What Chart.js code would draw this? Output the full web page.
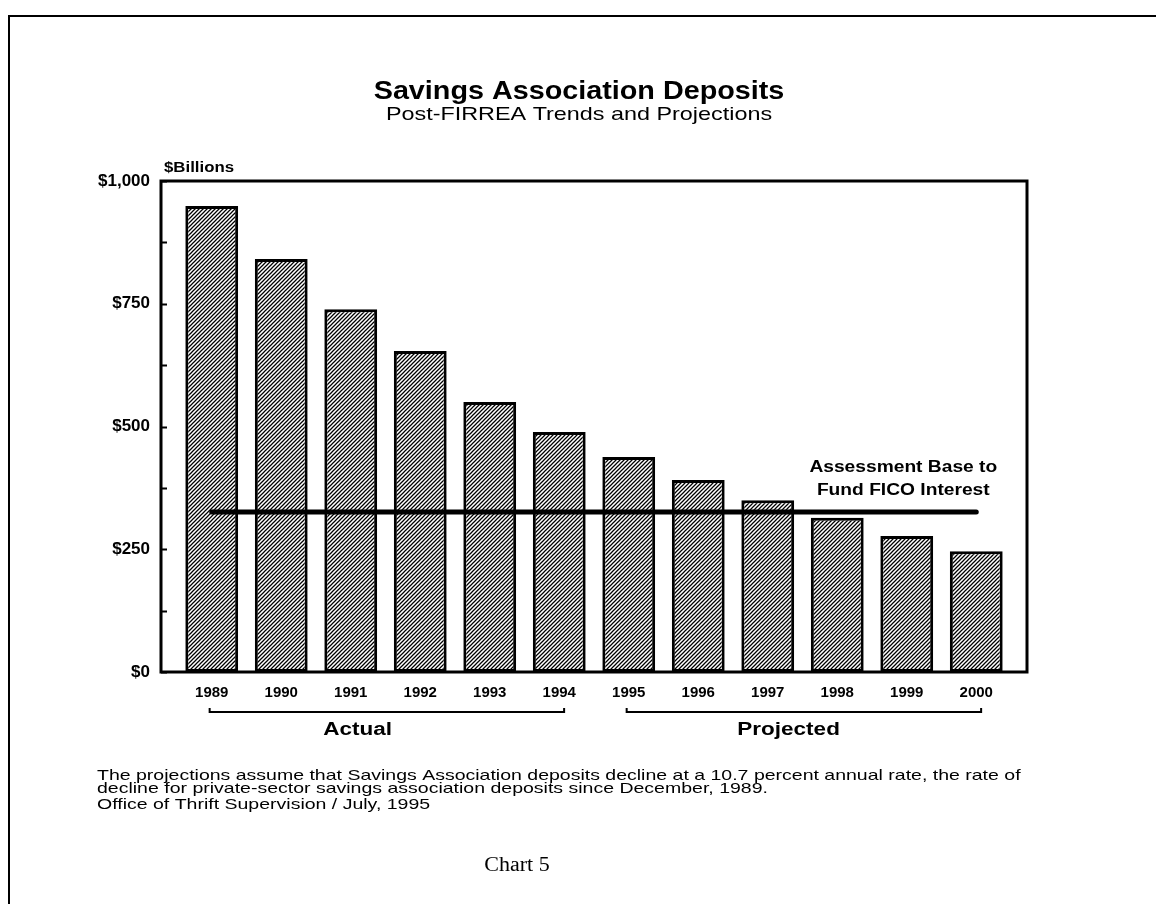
<!DOCTYPE html>
<html>
<head>
<meta charset="utf-8">
<script src="https://cdn.jsdelivr.net/npm/chart.js@4/dist/chart.umd.min.js"></script>
<style>
  html, body { margin: 0; padding: 0; background: #fff; }
  #wrap { position: relative; width: 1156px; height: 904px; }
</style>
</head>
<body>
<div id="wrap"><canvas id="c"></canvas></div>
<script>
// ---- data ----
const years = ['1989','1990','1991','1992','1993','1994','1995','1996','1997','1998','1999','2000'];
const deposits = [949, 841, 739, 654, 550, 489, 438, 391, 350, 314, 277, 246];
const ficoBase = 326;
const yTickValues = [0, 250, 500, 750, 1000];
const yMinorValues = [125, 375, 625, 875];
const groupNames = ['Actual', 'Projected'];
const groupFirst = [0, 6];
const groupLast = [5, 11];
const groupLabelAt = [2.1, 8.3];
const titleText = 'Savings Association Deposits';
const subtitleText = 'Post-FIRREA Trends and Projections';
const unitText = '$Billions';
const annotLines = ['Assessment Base to', 'Fund FICO Interest'];
const footLines = [
  'The projections assume that Savings Association deposits decline at a 10.7 percent annual rate, the rate of',
  'decline for private-sector savings association deposits since December, 1989.',
  'Office of Thrift Supervision / July, 1995'
];
const chartLabel = 'Chart 5';

// ---- hatch pattern ----
function hatch() {
  const t = document.createElement('canvas');
  t.width = 4; t.height = 4;
  const g = t.getContext('2d');
  g.fillStyle = '#fff'; g.fillRect(0, 0, 4, 4);
  g.strokeStyle = '#000'; g.lineWidth = 1.25;
  g.beginPath();
  g.moveTo(-1, 1); g.lineTo(1, -1);
  g.moveTo(0, 4); g.lineTo(4, 0);
  g.moveTo(3, 5); g.lineTo(5, 3);
  g.stroke();
  return g.createPattern(t, 'repeat');
}

function sText(ctx, txt, x, y, font, align, sx) {
  ctx.save();
  ctx.font = font;
  ctx.fillStyle = '#000';
  ctx.textBaseline = 'middle';
  ctx.translate(x, y);
  ctx.scale(sx, 1);
  ctx.textAlign = align;
  ctx.fillText(txt, 0, 0);
  ctx.restore();
}

const SANS = '"Liberation Sans", Arial, sans-serif';

const decor = {
  id: 'decor',
  beforeDraw(chart) {
    const ctx = chart.ctx;
    ctx.save();
    ctx.fillStyle = '#fff';
    ctx.fillRect(0, 0, chart.width, chart.height);
    ctx.strokeStyle = '#000';
    ctx.lineWidth = 2;
    ctx.beginPath();
    ctx.moveTo(9, 904); ctx.lineTo(9, 16); ctx.lineTo(1156, 16);
    ctx.stroke();
    ctx.restore();
  },
  afterDatasetsDraw(chart) {
    const ctx = chart.ctx;
    const a = chart.chartArea;
    const xs = chart.scales.x, ys = chart.scales.y;
    ctx.save();
    ctx.strokeStyle = '#000';
    ctx.lineWidth = 3;
    ctx.strokeRect(a.left, a.top, a.right - a.left, a.bottom - a.top);
    ctx.lineWidth = 2;
    ctx.beginPath();
    yTickValues.concat(yMinorValues).forEach(v => {
      const py = Math.round(ys.getPixelForValue(v)) + 0.5;
      ctx.moveTo(a.left, py); ctx.lineTo(a.left + 6, py);
    });
    ctx.stroke();
    ctx.restore();

    const cx = 579;
    sText(ctx, titleText, cx, 92, 'bold 25px ' + SANS, 'center', 1.15);
    sText(ctx, subtitleText, cx, 115, '19px ' + SANS, 'center', 1.23);
    sText(ctx, unitText, a.left + 3, 168, 'bold 14px ' + SANS, 'left', 1.2);

    const ly = ys.getPixelForValue(ficoBase);
    const ax = xs.getPixelForValue(9.95);
    sText(ctx, annotLines[0], ax, ly - 44, 'bold 16px ' + SANS, 'center', 1.2);
    sText(ctx, annotLines[1], ax, ly - 21, 'bold 16px ' + SANS, 'center', 1.2);

    ctx.save();
    ctx.strokeStyle = '#000';
    ctx.lineWidth = 2;
    groupNames.forEach((name, g) => {
      const x1 = xs.getPixelForValue(groupFirst[g] - 0.03);
      const x2 = xs.getPixelForValue(groupLast[g] + 0.07);
      const by = 712;
      ctx.beginPath();
      ctx.moveTo(x1, by - 4); ctx.lineTo(x1, by); ctx.lineTo(x2, by); ctx.lineTo(x2, by - 4);
      ctx.stroke();
      sText(ctx, name, xs.getPixelForValue(groupLabelAt[g]), 730, 'bold 18px ' + SANS, 'center', 1.25);
    });
    ctx.restore();

    sText(ctx, footLines[0], 97, 776, '15px ' + SANS, 'left', 1.3);
    sText(ctx, footLines[1], 97, 789, '15px ' + SANS, 'left', 1.3);
    sText(ctx, footLines[2], 97, 805, '15px ' + SANS, 'left', 1.3);
    sText(ctx, chartLabel, 517, 866, '20px "Liberation Serif", "Times New Roman", serif', 'center', 1.1);
  }
};

const ctx = document.getElementById('c').getContext('2d');
new Chart(ctx, {
  data: {
    datasets: [
      {
        type: 'line',
        label: 'Assessment Base to Fund FICO Interest',
        data: [{ x: 0, y: ficoBase }, { x: years.length - 1, y: ficoBase }],
        borderColor: '#000',
        borderWidth: 5,
        borderCapStyle: 'round',
        pointRadius: 0,
        fill: false,
        order: 0
      },
      {
        type: 'bar',
        label: 'Deposits',
        data: deposits.map((v, i) => ({ x: i, y: v })),
        backgroundColor: hatch(),
        borderColor: '#000',
        borderWidth: 3,
        borderSkipped: false,
        categoryPercentage: 1,
        barPercentage: 0.76,
        order: 1
      }
    ]
  },
  options: {
    responsive: true,
    maintainAspectRatio: false,
    animation: false,
    layout: { padding: { left: 0, right: 129, top: 181, bottom: 0 } },
    plugins: { legend: { display: false }, tooltip: { enabled: false }, title: { display: false } },
    scales: {
      x: {
        type: 'linear',
        offset: false,
        min: -0.73,
        max: years.length - 1 + 0.73,
        afterBuildTicks: axis => { axis.ticks = years.map((_, i) => ({ value: i })); },
        afterFit: s => { s.height = 232; },
        grid: { display: false, drawTicks: false, offset: false },
        border: { display: false },
        ticks: {
          autoSkip: false,
          maxRotation: 0,
          padding: 12,
          color: '#000',
          font: { family: SANS, size: 15, weight: 'bold' },
          callback: v => years[v] !== undefined ? years[v] : ''
        }
      },
      y: {
        min: 0,
        max: 1000,
        afterBuildTicks: axis => { axis.ticks = yTickValues.map(v => ({ value: v })); },
        afterFit: s => { s.width = 161; },
        grid: { display: false, drawTicks: false },
        border: { display: false },
        ticks: {
          padding: 11,
          color: '#000',
          font: { family: SANS, size: 17, weight: 'bold' },
          callback: v => '$' + Number(v).toLocaleString('en-US')
        }
      }
    }
  },
  plugins: [decor]
});
</script>
</body>
</html>
